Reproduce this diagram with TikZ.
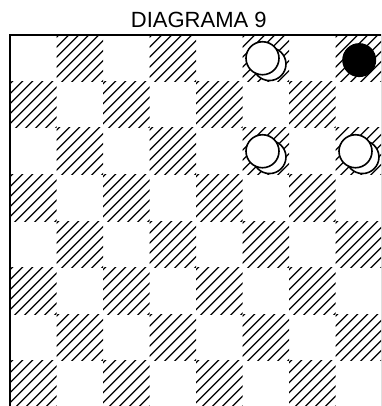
\documentclass[tikz,border=0pt]{standalone}
\usepackage{fontspec}
\setmainfont{Liberation Sans}
\usetikzlibrary{positioning}
\definecolor{cink}{HTML}{000000}
\tikzset{
  every picture/.style={line width=1.1pt},
  hatch/.style={draw=cink, line width=1.2pt},
  frame/.style={draw=cink, line width=2.4pt},
  man/.style={draw=cink, fill=white, line width=1.6pt},
  blackman/.style={fill=cink},
  title/.style={font=\fontsize{22}{26}\selectfont, text=cink},
}

\begin{document}
\begin{tikzpicture}[x=46.5pt, y=-46.5pt]
  \useasboundingbox (-10pt,35pt) rectangle (371pt,-371pt);
  \clip (-10pt,35pt) rectangle (371pt,-371pt);
  \node[title, anchor=base] (title) at (4.06,-0.17) {DIAGRAMA 9};
  % hatched squares
  \foreach \row in {0,...,7} {
    \foreach \col in {0,...,7} {
      \pgfmathtruncatemacro{\odd}{mod(\row+\col,2)}
      \ifnum\odd=1
        \begin{scope}
          \clip (\col,\row) rectangle ++(1,1);
          \foreach \j in {0,...,9} {
            \draw[hatch] ({\col+\j*0.215-1.45},{\row+1.5}) -- ++(2,-2);
          }
        \end{scope}
      \fi
    }
  }
  \draw[frame] (0,0) rectangle (8,8);
  % white kings (two stacked men)
  \foreach \px/\py in {5/0, 5/2, 7/2} {
    \draw[man] ({\px+0.5+0.08},{\py+0.5+0.125}) circle[radius=16.5pt];
    \draw[man] ({\px+0.5-0.07},{\py+0.5}) circle[radius=16.5pt];
  }
  % black man
  \fill[blackman] (7.51,0.54) circle[radius=17pt];
\end{tikzpicture}
\end{document}
